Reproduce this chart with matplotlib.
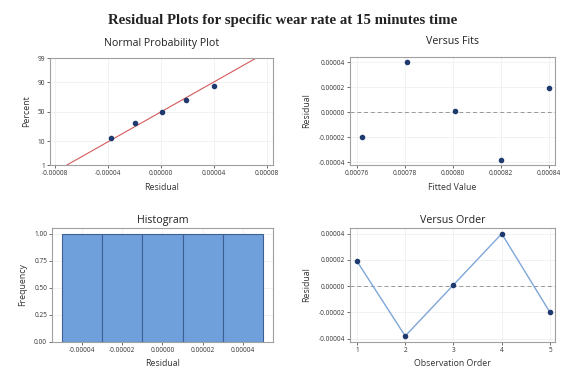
import numpy as np
import matplotlib
matplotlib.use('Agg')
import matplotlib.pyplot as plt
from matplotlib.ticker import FormatStrFormatter
from statistics import NormalDist

# residuals and fitted values
order = [1, 2, 3, 4, 5]
residuals = [0.000019, -0.000038, 0.000001, 0.00004, -0.00002]
fitted = [0.000840, 0.000820, 0.000801, 0.000781, 0.000762]
pct_ticks = [1, 10, 50, 90, 99]
hist_edges = [-0.00005, -0.00003, -0.00001, 0.00001, 0.00003, 0.00005]
res_ticks = [-0.00004, -0.00002, 0.0, 0.00002, 0.00004]

nd = NormalDist()
blue = '#70a0dc'
dark = '#1f3a6e'
grid_c = '#efefef'

plt.rcParams['font.family'] = ['Open Sans', 'DejaVu Sans']
fig = plt.figure(figsize=(5.65, 3.77), dpi=100)
fig.patch.set_facecolor('white')

ax1 = fig.add_axes([0.0885, 0.562, 0.395, 0.284])
ax2 = fig.add_axes([0.619, 0.562, 0.363, 0.287])
ax3 = fig.add_axes([0.092, 0.093, 0.391, 0.302])
ax4 = fig.add_axes([0.619, 0.093, 0.363, 0.302])


def style(ax, title, xlabel, ylabel, tpad):
    for s in ax.spines.values():
        s.set_color('#a0a0a0')
        s.set_linewidth(0.8)
    ax.tick_params(labelsize=4.7, length=2, width=0.5, colors='#333333', pad=1.5)
    ax.grid(True, color=grid_c, linewidth=0.6)
    ax.set_axisbelow(True)
    ax.set_title(title, fontsize=7.7, pad=tpad, color='#222222')
    ax.set_xlabel(xlabel, fontsize=6.3, labelpad=4, color='#333333')
    ax.set_ylabel(ylabel, fontsize=6.3, labelpad=5, color='#333333')


# normal probability plot
n = len(residuals)
sorted_res = np.sort(residuals)
pp = [(i + 1 - 0.3) / (n + 0.4) for i in range(n)]
zs = [nd.inv_cdf(p) for p in pp]
mu = np.mean(residuals)
sd = np.std(residuals, ddof=1)
zlo, zhi = nd.inv_cdf(0.01), nd.inv_cdf(0.99)
zline = np.array([zlo - 0.2, zhi + 0.2])
ax1.plot(mu + sd * zline, zline, color='#d45a5a', lw=0.8)
ax1.scatter(sorted_res, zs, s=9, color=dark, zorder=3)
ax1.set_ylim(zlo, zhi)
ax1.set_yticks([nd.inv_cdf(p / 100) for p in pct_ticks])
ax1.set_yticklabels([str(p) for p in pct_ticks])
ax1.set_xlim(-0.000084, 0.000085)
ax1.set_xticks([-0.00008, -0.00004, 0.0, 0.00004, 0.00008])
ax1.xaxis.set_major_formatter(FormatStrFormatter('%.5f'))
style(ax1, 'Normal Probability Plot', 'Residual', 'Percent', 9)

# versus fits
ax2.axhline(0, color='#999999', lw=0.7, ls=(0, (4, 3)))
ax2.scatter(fitted, residuals, s=9, color=dark, zorder=3)
ax2.set_xlim(0.000757, 0.0008425)
ax2.set_xticks([0.00076, 0.00078, 0.00080, 0.00082, 0.00084])
ax2.xaxis.set_major_formatter(FormatStrFormatter('%.5f'))
ax2.set_yticks(res_ticks)
ax2.set_ylim(-0.0000422, 0.0000442)
ax2.yaxis.set_major_formatter(FormatStrFormatter('%.5f'))
style(ax2, 'Versus Fits', 'Fitted Value', 'Residual', 9)

# histogram
ax3.hist(residuals, bins=hist_edges, color=blue, edgecolor='#3d5f94', linewidth=0.8)
ax3.set_xticks(res_ticks)
ax3.xaxis.set_major_formatter(FormatStrFormatter('%.5f'))
ax3.set_yticks([0, 0.25, 0.5, 0.75, 1.0])
ax3.yaxis.set_major_formatter(FormatStrFormatter('%.2f'))
style(ax3, 'Histogram', 'Residual', 'Frequency', 4)

# versus order
ax4.axhline(0, color='#999999', lw=0.7, ls=(0, (4, 3)))
ax4.plot(order, residuals, color='#7ea6d8', lw=1.0, zorder=2)
ax4.scatter(order, residuals, s=9, color=dark, zorder=3)
ax4.set_xticks(order)
ax4.set_xlim(0.85, 5.1)
ax4.set_yticks(res_ticks)
ax4.set_ylim(-0.0000425, 0.0000443)
ax4.yaxis.set_major_formatter(FormatStrFormatter('%.5f'))
style(ax4, 'Versus Order', 'Observation Order', 'Residual', 4)

fig.text(0.5, 0.945, 'Residual Plots for specific wear rate at 15 minutes time',
         ha='center', va='center', fontsize=10.7, fontweight='bold',
         family='Liberation Serif', color='#222222')

fig.savefig('out.png', dpi=100)
